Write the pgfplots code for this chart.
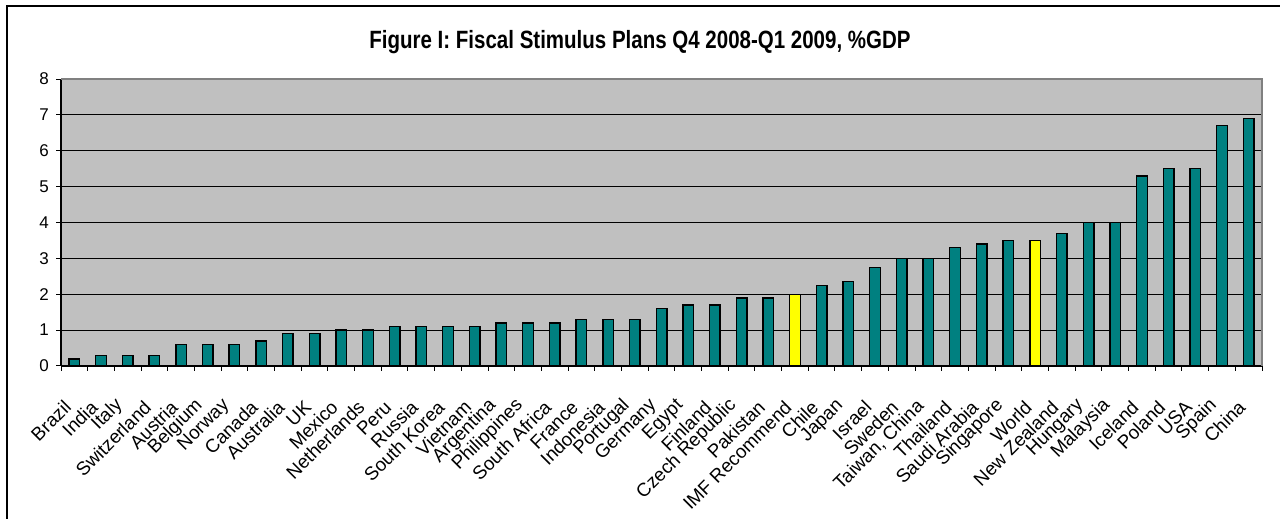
\documentclass[border=0pt]{standalone}
\usepackage{pgfplots}
\pgfplotsset{compat=1.18}
\usepackage{fontspec}
\setmainfont{Liberation Sans}
\newfontfamily\narrowfont{Liberation Sans}[FakeStretch=0.82]
\definecolor{barteal}{RGB}{0,128,128}
\definecolor{plotbg}{RGB}{192,192,192}
\definecolor{baryellow}{RGB}{255,255,0}
\definecolor{bordergray}{RGB}{128,128,128}
\begin{document}
\begin{tikzpicture}
\useasboundingbox (0,0) rectangle (640pt,259.5pt);
\draw[line width=0.8pt] (3.5pt,-5pt) -- (3.5pt,256.5pt) -- (650pt,256.5pt);
\node[font=\narrowfont\bfseries\fontsize{12.5}{15}\selectfont] at (320pt,238.5pt) {Figure I: Fiscal Stimulus Plans Q4 2008-Q1 2009, \%GDP};
\begin{axis}[
  at={(30.5pt,76.5pt)}, anchor=south west,
  scale only axis, width=600.5pt, height=143.5pt,
  xmin=-0.5, xmax=44.5, ymin=0, ymax=8,
  ytick={0,...,8},
  xtick={-0.5,0.5,...,44.5}, xticklabels={},
  extra x ticks={0,1,...,44},
  extra x tick labels={Brazil,India,Italy,Switzerland,Austria,Belgium,Norway,Canada,Australia,UK,Mexico,Netherlands,Peru,Russia,South Korea,Vietnam,Argentina,Philippines,South Africa,France,Indonesia,Portugal,Germany,Egypt,Finland,Czech Republic,Pakistan,IMF Recommend,Chile,Japan,Israel,Sweden,{Taiwan, China},Thailand,Saudi Arabia,Singapore,World,New Zealand,Hungary,Malaysia,Iceland,Poland,USA,Spain,China},
  extra x tick style={major tick length=0pt, xmajorgrids=false,
    tick label style={xshift=0pt, yshift=-21.5pt, rotate=45, anchor=south east, font=\fontsize{9.4}{11}\selectfont, inner sep=0.5pt}},
  ymajorgrids, grid style={black, line width=0.5pt},
  tick align=outside, tick pos=left, major tick length=2.5pt,
  tick style={black, line width=0.5pt},
  axis line style={-, black, line width=0.6pt},
  axis x line*=bottom, axis y line*=left,
  axis background/.style={fill=plotbg},
  yticklabel style={font=\fontsize{8.5}{10}\selectfont, xshift=0pt},
  /pgf/number format/assume math mode=true,
  clip=false,
]
\addplot[ybar, bar width=5.3pt, bar shift=0pt, fill=barteal, draw=black, line width=0.7pt] coordinates {
(0,0.2)(1,0.3)(2,0.3)(3,0.3)(4,0.6)(5,0.6)(6,0.6)(7,0.7)(8,0.9)(9,0.9)
(10,1.0)(11,1.0)(12,1.1)(13,1.1)(14,1.1)(15,1.1)(16,1.2)(17,1.2)(18,1.2)(19,1.3)
(20,1.3)(21,1.3)(22,1.6)(23,1.7)(24,1.7)(25,1.9)(26,1.9)(28,2.25)(29,2.35)
(30,2.75)(31,3.0)(32,3.0)(33,3.3)(34,3.4)(35,3.5)(37,3.7)(38,4.0)(39,4.0)
(40,5.3)(41,5.5)(42,5.5)(43,6.7)(44,6.9)};
\addplot[ybar, bar width=5.3pt, bar shift=0pt, fill=baryellow, draw=black, line width=0.7pt] coordinates {(27,2.0)(36,3.5)};
\draw[bordergray, line width=0.8pt] (axis cs:-0.5,8) -- (axis cs:44.5,8) -- (axis cs:44.5,0);
\end{axis}
\end{tikzpicture}
\end{document}
